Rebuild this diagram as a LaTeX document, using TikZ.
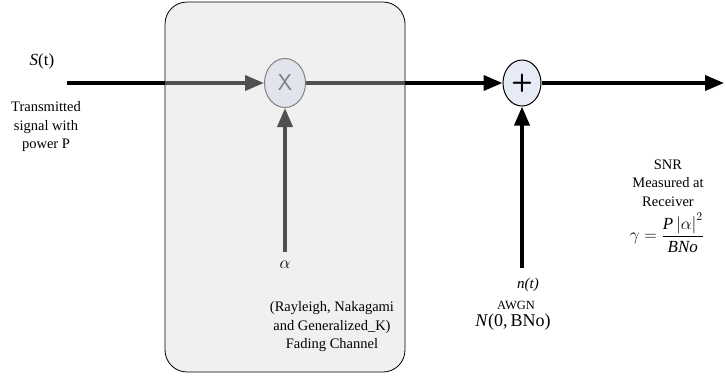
\documentclass[tikz,border=0pt]{standalone}
\usepackage{fontspec}
\setmainfont{Liberation Serif}
\usepackage{amsmath}
\usepackage{xcolor}
\usetikzlibrary{arrows.meta,shapes.geometric}

\definecolor{boxfill}{HTML}{F0F0F0}
\definecolor{mixfill}{HTML}{E1E4EC}
\definecolor{addfill}{HTML}{E6EBF5}
\definecolor{inner}{HTML}{505050}

\tikzset{
  every node/.style={font=\fontsize{14.5bp}{18.5bp}\selectfont},
  txt/.style={align=center, inner sep=0pt},
  chanbox/.style={draw=black, line width=0.8bp, fill=boxfill, rounded corners=22bp,
    minimum width=240bp, minimum height=370bp, inner sep=0pt},
  mixer/.style={ellipse, draw=gray, line width=1bp, fill=mixfill, text=gray,
    minimum width=41bp, minimum height=49bp, inner sep=0pt, font=\sffamily\fontsize{23bp}{23bp}\selectfont},
  adder/.style={ellipse, draw=black, line width=1bp, fill=addfill,
    minimum width=38bp, minimum height=46bp, inner sep=0pt, font=\sffamily\bfseries\fontsize{25bp}{25bp}\selectfont},
  sigline/.style={line width=3.6bp, black},
  insline/.style={line width=3.6bp, inner},
  arr/.style={-{Triangle[length=19bp,width=15bp]}}
}

\begin{document}
\begin{tikzpicture}[x=1bp,y=-1bp]
        \useasboundingbox (0,0) rectangle (726,380);
        \node[chanbox](chan) at (285,187) {};
        \node[mixer](mix) at (285,83) {X};
        \node[adder](add) at (522,83) {+};
        \coordinate(sin) at (67,83);
        \coordinate(sout) at (724,83);
        \coordinate(afrom) at (285,252);
        \coordinate(nfrom) at (522,268);
        \draw[sigline](sin)--(chan.west |- sin);
        \draw[insline,arr](chan.west |- sin)--(mix);
        \draw[insline](mix)--(chan.east |- mix);
        \draw[sigline,arr](chan.east |- mix)--(add);
        \draw[sigline,arr](add)--(sout);
        \draw[insline,arr](afrom)--(mix);
        \draw[sigline,arr](nfrom)--(add);
        \node(st) at (42,61) {\fontsize{17bp}{17bp}\selectfont\textit{S}(t)};
        \node[txt](tx) at (46,127) {Transmitted\\signal with\\power P};
        \node(alab) at (285,265) {\fontsize{18bp}{18bp}\selectfont$\alpha$};
        \node[txt](fad) at (332,327) {(Rayleigh, Nakagami\\and Generalized\_K)\\Fading Channel};
        \node(nt) at (528,285) {\fontsize{15bp}{15bp}\selectfont\textit{n(t)}};
        \node(awgn) at (516,305) {\fontsize{12.5bp}{12.5bp}\selectfont AWGN};
        \node(nlab) at (513,322) {\fontsize{18bp}{18bp}\selectfont\textit{N}(0,\,BNo)};
        \node[txt](snr) at (668,183) {SNR\\Measured at\\Receiver};
        \node(gam) at (667,233) {\fontsize{17bp}{17bp}\selectfont$\gamma=\dfrac{\textit{P}\left|\alpha\right|^{2}}{\textit{BNo}}$};
\end{tikzpicture}
\end{document}
